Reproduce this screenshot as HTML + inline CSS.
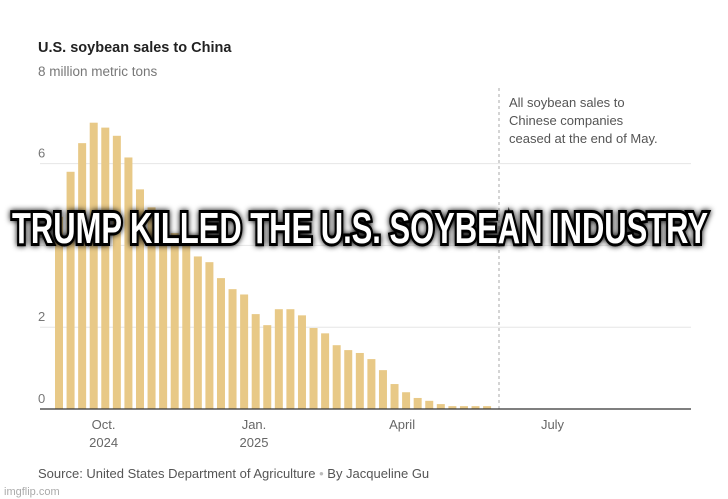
<!DOCTYPE html>
<html><head><meta charset="utf-8"><style>
body{margin:0;background:#fff;}
svg{display:block;font-family:"Liberation Sans",sans-serif;}
</style></head><body>
<svg width="728" height="499" viewBox="0 0 728 499">
<text x="38" y="52" font-size="14.5" font-weight="bold" fill="#222">U.S. soybean sales to China</text>
<text x="38" y="76" font-size="13.5" fill="#777">8 million metric tons</text>
<g id="grid"></g>
<g id="bars"></g>
<line x1="499" y1="88" x2="499" y2="409" stroke="#aaa" stroke-dasharray="3,3"/>
<g font-size="13" fill="#555">
<text x="509" y="107">All soybean sales to</text>
<text x="509" y="125">Chinese companies</text>
<text x="509" y="143">ceased at the end of May.</text>
</g>
<line x1="40" y1="409" x2="691" y2="409" stroke="#333" stroke-width="1.3"/>
<g id="xlabels" font-size="13" fill="#666" text-anchor="middle"></g>
<text x="38" y="478" font-size="13" fill="#555">Source: United States Department of Agriculture <tspan fill="#bbb">•</tspan> By Jacqueline Gu</text>
<text x="4" y="495" font-size="11" fill="#aaa">imgflip.com</text>
<text x="360" y="243" font-size="44" font-weight="bold" font-family="'Liberation Sans Narrow','Liberation Sans',sans-serif" text-anchor="middle" textLength="696" lengthAdjust="spacingAndGlyphs" fill="#fff" stroke="#000" stroke-width="6" paint-order="stroke" style="filter:drop-shadow(0 0 3px #000)">TRUMP KILLED THE U.S. SOYBEAN INDUSTRY</text>
</svg>
<script>
const values=[4.7,5.8,6.5,7.0,6.88,6.68,6.15,5.37,4.93,4.6,4.3,4.0,3.73,3.59,3.2,2.93,2.8,2.32,2.05,2.44,2.44,2.29,1.98,1.85,1.56,1.44,1.37,1.22,0.95,0.61,0.41,0.27,0.2,0.12,0.07,0.07,0.07,0.07];
const yTicks=[0,2,4,6];
const xLabels=[["Oct.","2024",4.2],["Jan.","2025",17.2],["April","",30],["July","",43]];
const ns="http://www.w3.org/2000/svg";
const y=v=>409-v*40.9;
const x=i=>55+i*11.57;
const grid=document.getElementById('grid');
yTicks.forEach(t=>{
  if(t>0){const l=document.createElementNS(ns,'line');
  l.setAttribute('x1',40);l.setAttribute('x2',691);l.setAttribute('y1',y(t));l.setAttribute('y2',y(t));
  l.setAttribute('stroke','#e6e6e6');
  
  
  grid.appendChild(l);}
  const tx=document.createElementNS(ns,'text');
  tx.setAttribute('x',38);tx.setAttribute('y',y(t)-6);tx.setAttribute('font-size',13);tx.setAttribute('fill','#777');
  tx.textContent=t;
  
  
  grid.appendChild(tx);
});
const bars=document.getElementById('bars');
values.forEach((v,i)=>{
  const r=document.createElementNS(ns,'rect');
  r.setAttribute('x',x(i));r.setAttribute('width',8);
  r.setAttribute('y',y(v));r.setAttribute('height',409-y(v));
  r.setAttribute('fill','#e8c987');
  
  
  bars.appendChild(r);
});
const xl=document.getElementById('xlabels');
xLabels.forEach(d=>{
  const t=document.createElementNS(ns,'text');
  t.setAttribute('x',x(d[2]));t.setAttribute('y',429);
  t.innerHTML=d[0]+(d[1]?'<tspan x="'+x(d[2])+'" dy="18">'+d[1]+'</tspan>':'');
  
  
  xl.appendChild(t);
});
</script>
</body></html>
